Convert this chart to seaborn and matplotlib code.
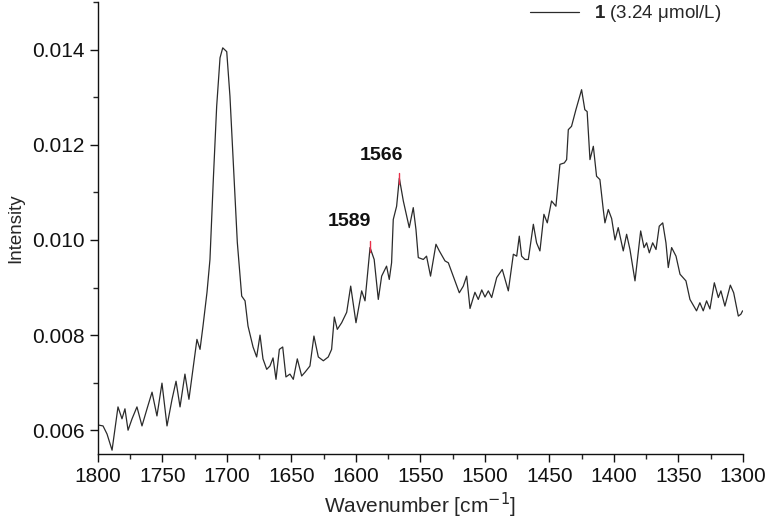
import matplotlib
matplotlib.use("Agg")
import matplotlib.pyplot as plt
from matplotlib.ticker import MultipleLocator, FormatStrFormatter
import seaborn as sns
import pandas as pd

# spectrum
wavenumber = [
    1800.0, 1796.1, 1793.0, 1789.1, 1784.5, 1781.4, 1779.1, 1776.7, 1773.6, 1769.8,
    1765.9, 1762.0, 1758.1, 1754.3, 1750.4, 1746.5, 1742.6, 1739.5, 1736.4, 1732.6,
    1729.5, 1726.4, 1723.3, 1720.9, 1718.6, 1715.5, 1713.2, 1710.6, 1708.0, 1705.4,
    1703.3, 1700.2, 1697.7, 1695.1, 1692.0, 1688.6, 1686.0, 1683.7, 1679.8, 1677.0,
    1674.4, 1672.1, 1669.2, 1666.7, 1664.3, 1662.0, 1659.4, 1656.8, 1654.3, 1651.2,
    1648.6, 1645.5, 1642.1, 1639.5, 1635.7, 1632.6, 1629.2, 1625.3, 1621.5, 1618.9,
    1616.8, 1614.5, 1611.1, 1607.2, 1604.1, 1600.0, 1595.6, 1593.0, 1589.1, 1585.9,
    1582.7, 1580.1, 1576.3, 1574.2, 1572.4, 1571.1, 1568.5, 1566.4, 1563.3, 1560.7,
    1558.7, 1555.6, 1553.5, 1551.7, 1547.8, 1545.3, 1542.2, 1538.0, 1535.4, 1531.0,
    1528.4, 1524.6, 1519.9, 1516.8, 1514.2, 1511.6, 1507.8, 1505.2, 1502.5, 1500.0,
    1497.4, 1494.8, 1490.9, 1486.6, 1481.9, 1478.0, 1475.4, 1473.4, 1471.6, 1469.0,
    1466.4, 1462.5, 1460.0, 1457.4, 1454.3, 1451.7, 1448.4, 1445.0, 1441.9, 1438.5,
    1436.7, 1435.4, 1432.9, 1429.5, 1425.1, 1422.6, 1420.8, 1418.6, 1416.0, 1413.5,
    1410.9, 1408.3, 1407.0, 1404.4, 1401.8, 1399.2, 1396.7, 1392.8, 1390.2, 1387.6,
    1383.7, 1379.3, 1376.7, 1374.7, 1372.6, 1370.0, 1367.4, 1364.9, 1362.2, 1359.7,
    1357.9, 1355.3, 1351.9, 1348.8, 1344.2, 1341.1, 1336.0, 1333.4, 1330.8, 1328.2,
    1325.6, 1322.2, 1319.1, 1317.1, 1314.0, 1309.8, 1307.2, 1303.6, 1301.6, 1300.3,
]
intensity = [
    0.00611, 0.00609, 0.00592, 0.00558, 0.00649, 0.00624, 0.00645, 0.00600, 0.00624, 0.00649,
    0.00609, 0.00645, 0.00680, 0.00630, 0.00699, 0.00609, 0.00665, 0.00703, 0.00649, 0.00718,
    0.00665, 0.00728, 0.00791, 0.00770, 0.00819, 0.00890, 0.00959, 0.01127, 0.01281, 0.01383,
    0.01404, 0.01396, 0.01302, 0.01163, 0.00995, 0.00882, 0.00872, 0.00819, 0.00775, 0.00754,
    0.00800, 0.00750, 0.00728, 0.00735, 0.00752, 0.00707, 0.00770, 0.00775, 0.00712, 0.00718,
    0.00707, 0.00750, 0.00714, 0.00722, 0.00735, 0.00798, 0.00754, 0.00746, 0.00754, 0.00770,
    0.00838, 0.00812, 0.00826, 0.00848, 0.00903, 0.00826, 0.00893, 0.00872, 0.00984, 0.00959,
    0.00875, 0.00924, 0.00945, 0.00917, 0.00952, 0.01043, 0.01071, 0.01130, 0.01082, 0.01050,
    0.01026, 0.01068, 0.01022, 0.00963, 0.00959, 0.00966, 0.00924, 0.00991, 0.00977, 0.00956,
    0.00952, 0.00924, 0.00889, 0.00903, 0.00924, 0.00856, 0.00890, 0.00875, 0.00895, 0.00880,
    0.00893, 0.00879, 0.00921, 0.00938, 0.00893, 0.00970, 0.00966, 0.01008, 0.00966, 0.00959,
    0.00959, 0.01033, 0.00994, 0.00977, 0.01054, 0.01036, 0.01082, 0.01071, 0.01159, 0.01162,
    0.01169, 0.01232, 0.01239, 0.01274, 0.01316, 0.01274, 0.01270, 0.01169, 0.01197, 0.01134,
    0.01127, 0.01064, 0.01036, 0.01064, 0.01045, 0.01000, 0.01026, 0.00977, 0.01012, 0.00980,
    0.00914, 0.01019, 0.00984, 0.00994, 0.00973, 0.00994, 0.00980, 0.01029, 0.01036, 0.00994,
    0.00942, 0.00984, 0.00966, 0.00928, 0.00914, 0.00875, 0.00851, 0.00868, 0.00851, 0.00872,
    0.00855, 0.00910, 0.00879, 0.00893, 0.00861, 0.00905, 0.00889, 0.00840, 0.00844, 0.00851,
]

peak_labels = ["1589", "1566"]
peak_pos = [1589.5, 1566.4]
peak_top = [0.00997, 0.01140]
label_pos = [(1604.7, 0.01022), (1580.6, 0.01159)]

sns.set_style("ticks")
plt.rcParams["font.family"] = ["Liberation Sans", "DejaVu Sans"]
plt.rcParams["mathtext.fontset"] = "custom"
plt.rcParams["mathtext.bf"] = "Liberation Sans:bold"

df = pd.DataFrame({"wn": wavenumber, "I": intensity})

fig = plt.figure(figsize=(7.68, 5.22), dpi=100)
ax = fig.add_axes([0.1276, 0.1303, 0.8398, 0.8655])

sns.lineplot(data=df, x="wn", y="I", sort=False, ax=ax, color="#2b2b2b",
             linewidth=0.9, label=r"$\mathbf{1}$ (3.24 μmol/L)")

# small red markers at peak tops plus bold labels
for lab, x, y, (tx, ty) in zip(peak_labels, peak_pos, peak_top, label_pos):
    ax.plot([x, x], [y - 0.00022, y], color="#e8304a", linewidth=1.0)
    ax.text(tx, ty, lab, ha="center", va="bottom",
            fontsize=14, fontweight="bold", color="#111111")

ax.set_xlim(1800, 1300)
ax.set_ylim(0.0055, 0.015)
ax.xaxis.set_major_locator(MultipleLocator(50))
ax.xaxis.set_minor_locator(MultipleLocator(25))
ax.yaxis.set_major_locator(MultipleLocator(0.002))
ax.yaxis.set_minor_locator(MultipleLocator(0.001))
ax.yaxis.set_major_formatter(FormatStrFormatter("%.3f"))
ax.tick_params(which="major", direction="out", length=6, width=1, labelsize=15, colors="#111111")
ax.tick_params(which="minor", direction="out", length=3.5, width=1)
for s in ["top", "right"]:
    ax.spines[s].set_visible(False)
for s in ["left", "bottom"]:
    ax.spines[s].set_linewidth(1.0)
    ax.spines[s].set_color("#111111")

ax.set_xlabel(r"Wavenumber [cm$^{-1}$]", fontsize=15, labelpad=3)
ax.set_ylabel("Intensity", fontsize=13.5, labelpad=6)

ax.legend(loc="upper right", bbox_to_anchor=(0.992, 1.035), frameon=False,
          fontsize=13.5, handlelength=2.6, handletextpad=0.8)

fig.savefig("out.png", dpi=100)
